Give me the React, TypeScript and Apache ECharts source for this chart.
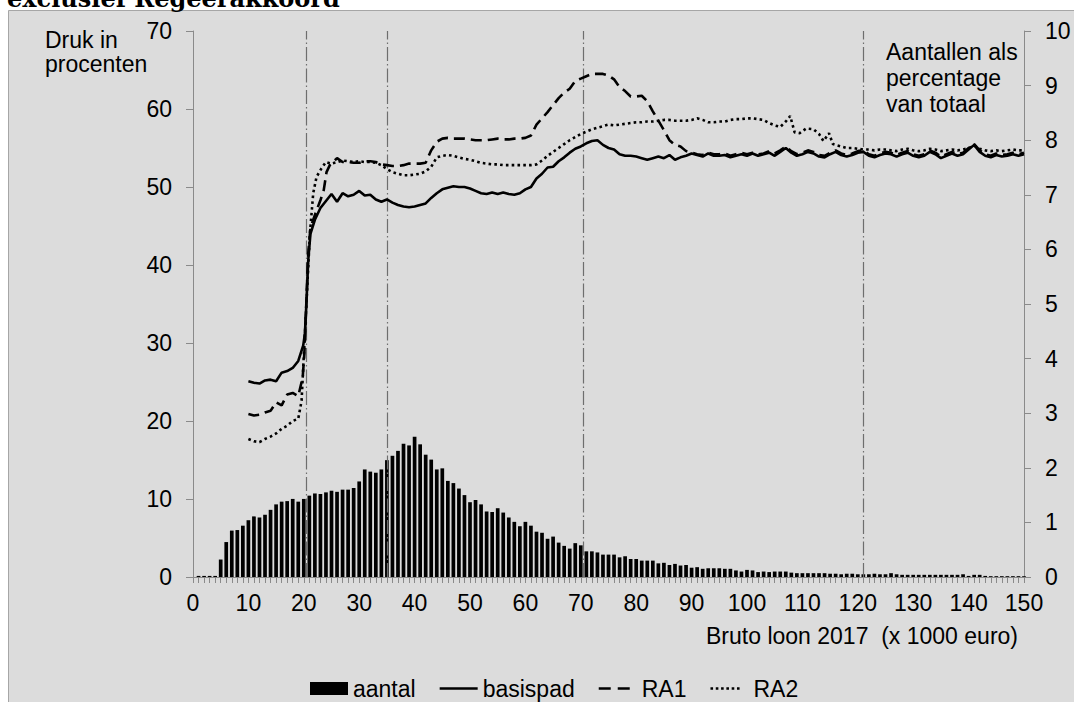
import React, { useEffect, useRef } from "react";
import * as echarts from "echarts";

// Aantallen als percentage van totaal, per 1000 euro bruto loon (x = 1..150)
const aantal: number[] = [
  0.02, 0.02, 0.02, 0.02, 0.32, 0.64, 0.85, 0.86, 0.94, 1.04,
  1.11, 1.09, 1.14, 1.23, 1.33, 1.38, 1.39, 1.43, 1.38, 1.43,
  1.49, 1.53, 1.52, 1.55, 1.58, 1.56, 1.6, 1.6, 1.63, 1.75,
  1.97, 1.93, 1.91, 1.97, 2.14, 2.22, 2.31, 2.44, 2.41, 2.57,
  2.43, 2.24, 2.15, 1.97, 1.99, 1.76, 1.72, 1.62, 1.5, 1.37,
  1.41, 1.33, 1.2, 1.19, 1.26, 1.18, 1.09, 1.01, 0.93, 1.01,
  0.94, 0.83, 0.81, 0.7, 0.74, 0.63, 0.57, 0.52, 0.62, 0.58,
  0.47, 0.47, 0.45, 0.41, 0.41, 0.41, 0.36, 0.38, 0.33, 0.33,
  0.3, 0.3, 0.3, 0.25, 0.26, 0.22, 0.24, 0.21, 0.22, 0.17,
  0.18, 0.15, 0.16, 0.16, 0.16, 0.15, 0.15, 0.12, 0.1, 0.13,
  0.12, 0.09, 0.1, 0.09, 0.1, 0.1, 0.1, 0.08, 0.07, 0.07,
  0.07, 0.07, 0.07, 0.07, 0.06, 0.06, 0.05, 0.06, 0.06, 0.05,
  0.05, 0.05, 0.06, 0.05, 0.05, 0.07, 0.05, 0.04, 0.04, 0.04,
  0.04, 0.04, 0.04, 0.04, 0.04, 0.04, 0.04, 0.04, 0.05, 0.02,
  0.04, 0.04, 0.02, 0.015, 0.015, 0.015, 0.015, 0.015, 0.015, 0.015,
];
const aantalStart = 1;

// Druk in procenten: [bruto loon x1000, druk]
const basispad: [number, number][] = [
  [10, 25.1], [11, 24.9], [12, 24.8], [13, 25.2], [14, 25.3], [15, 25.1], [16, 26.2], [17, 26.4], [18, 26.8], [19, 27.7],
  [19.9, 29.7], [20.2, 31.2], [20.5, 35.5], [20.8, 40.6], [21.2, 44.0], [22, 45.8], [23, 47.3], [24, 48.2], [25, 49.1], [26, 48.1],
  [27, 49.2], [28, 48.8], [29, 49.0], [30, 49.5], [31, 48.9], [32, 49.0], [33, 48.4], [34, 48.1], [35, 48.4], [36, 48.0],
  [37, 47.7], [38, 47.5], [39, 47.4], [40, 47.5], [41, 47.7], [42, 47.9], [43, 48.6], [44, 49.2], [45, 49.7], [46, 49.9],
  [47, 50.1], [48, 50.0], [49, 50.0], [50, 49.8], [51, 49.5], [52, 49.2], [53, 49.1], [54, 49.3], [55, 49.1], [56, 49.3],
  [57, 49.1], [58, 49.0], [59, 49.2], [60, 49.7], [61, 50.0], [62, 51.1], [63, 51.7], [64, 52.5], [65, 52.6], [66, 53.3],
  [67, 53.8], [68, 54.4], [69, 54.9], [70, 55.2], [71, 55.6], [72, 55.9], [73, 56.0], [74, 55.4], [75, 55.0], [76, 54.8],
  [77, 54.2], [78, 54.0], [79, 54.0], [80, 53.9], [81, 53.7], [82, 53.5], [83, 53.7], [84, 53.9], [85, 53.7], [86, 54.1],
  [87, 53.5], [88, 53.8], [89, 54.0], [90, 54.3], [91, 54.1], [92, 53.9], [93, 54.3], [94, 54.0], [95, 54.0], [96, 54.1],
  [97, 53.8], [98, 54.0], [99, 54.2], [100, 54.0], [101, 54.3], [102, 54.0], [103, 54.2], [104, 54.4], [105, 54.0], [106, 54.5],
  [107, 55.0], [108, 54.4], [109, 54.0], [110, 54.2], [111, 54.5], [112, 54.3], [113, 53.9], [114, 53.8], [115, 54.2], [116, 54.5],
  [117, 54.1], [118, 53.9], [119, 54.1], [120, 54.4], [121, 54.5], [122, 54.0], [123, 53.8], [124, 54.1], [125, 54.3], [126, 54.2],
  [127, 53.9], [128, 54.2], [129, 54.4], [130, 54.0], [131, 53.8], [132, 54.0], [133, 54.5], [134, 54.2], [135, 53.7], [136, 54.0],
  [137, 54.3], [138, 54.0], [139, 54.2], [140, 54.8], [141, 55.4], [142, 54.5], [143, 54.0], [144, 53.8], [145, 54.1], [146, 53.9],
  [147, 54.0], [148, 54.2], [149, 54.0], [150, 54.2],
];

const ra1: [number, number][] = [
  [10, 20.9], [11, 20.7], [12, 20.8], [13, 21.1], [14, 21.3], [15, 22.4], [16, 22.0], [17, 23.4], [18, 23.6], [19, 23.2],
  [19.8, 25.6], [20.1, 28.6], [20.5, 36.0], [20.8, 41.5], [21.2, 44.8], [22.2, 46.8], [23, 48.3], [23.6, 49.6], [24.1, 51.9], [24.7, 52.8],
  [26, 53.7], [27, 53.2], [28, 53.2], [29, 53.1], [30, 53.1], [31, 53.3], [32, 53.3], [33, 53.2], [34, 52.9], [35, 52.8],
  [36, 52.7], [37, 52.7], [38, 52.8], [39, 53.0], [40, 53.0], [41, 53.0], [42, 53.1], [43, 54.7], [44, 55.8], [45, 56.2],
  [46, 56.3], [47, 56.2], [48, 56.2], [49, 56.2], [50, 56.1], [51, 56.0], [52, 56.0], [53, 56.0], [54, 56.1], [55, 56.2],
  [56, 56.1], [57, 56.1], [58, 56.2], [59, 56.2], [60, 56.3], [61, 56.6], [62, 58.0], [63, 58.8], [64, 59.6], [65, 60.5],
  [66, 61.4], [67, 62.1], [68, 62.6], [69, 63.6], [70, 63.9], [71, 64.2], [72, 64.5], [73, 64.5], [74, 64.5], [75, 64.3],
  [76, 63.8], [77, 62.8], [78, 62.3], [79, 61.6], [80, 61.6], [81, 61.7], [82, 61.0], [83, 59.7], [84, 58.5], [85, 57.3],
  [86, 56.0], [87, 55.4], [88, 55.2], [89, 54.6], [90, 54.4], [91, 54.2], [92, 54.1], [93, 54.4], [94, 54.2], [95, 54.2],
  [96, 54.3], [97, 54.0], [98, 54.2], [99, 54.4], [100, 54.2], [101, 54.4], [102, 54.2], [103, 54.3], [104, 54.6], [105, 54.3],
  [106, 54.7], [107, 55.2], [108, 54.6], [109, 54.2], [110, 54.4], [111, 54.7], [112, 54.5], [113, 54.1], [114, 54.0], [115, 54.4],
  [116, 54.7], [117, 54.3], [118, 54.1], [119, 54.3], [120, 54.6], [121, 54.7], [122, 54.2], [123, 54.0], [124, 54.3], [125, 54.5],
  [126, 54.4], [127, 54.1], [128, 54.4], [129, 54.6], [130, 54.2], [131, 54.0], [132, 54.2], [133, 54.7], [134, 54.4], [135, 53.9],
  [136, 54.2], [137, 54.5], [138, 54.2], [139, 54.4], [140, 55.0], [141, 55.5], [142, 54.7], [143, 54.2], [144, 54.0], [145, 54.3],
  [146, 54.1], [147, 54.2], [148, 54.4], [149, 54.2], [150, 54.4],
];

const ra2: [number, number][] = [
  [10, 17.7], [11, 17.4], [12, 17.3], [13, 17.7], [14, 18.0], [15, 18.4], [16, 19.0], [17, 19.4], [18, 20.0], [19, 20.3],
  [19.6, 22.6], [19.9, 26.9], [20.5, 35.4], [21.1, 44.0], [21.7, 49.2], [22.3, 51.3], [23.2, 52.4], [24, 53.2], [25, 53.0], [26, 53.2],
  [27, 53.4], [28, 53.3], [29, 53.2], [30, 53.3], [31, 53.2], [32, 53.2], [33, 53.1], [34, 52.8], [35, 52.3], [36, 51.9],
  [37, 51.7], [38, 51.5], [39, 51.5], [40, 51.6], [41, 51.7], [42, 52.0], [43, 52.6], [44, 53.8], [45, 54.0], [46, 54.1],
  [47, 54.0], [48, 53.8], [49, 53.6], [50, 53.5], [51, 53.3], [52, 53.1], [53, 53.0], [54, 52.9], [55, 52.9], [56, 52.8],
  [57, 52.8], [58, 52.8], [59, 52.8], [60, 52.8], [61, 52.8], [62, 52.9], [63, 53.4], [64, 54.0], [65, 54.5], [66, 55.0],
  [67, 55.5], [68, 56.0], [69, 56.4], [70, 56.8], [71, 57.1], [72, 57.4], [73, 57.6], [74, 57.8], [75, 58.0], [76, 57.9],
  [77, 58.0], [78, 58.1], [79, 58.2], [80, 58.3], [81, 58.3], [82, 58.4], [83, 58.4], [84, 58.5], [85, 58.6], [86, 58.6],
  [87, 58.5], [88, 58.5], [89, 58.5], [90, 58.6], [91, 58.8], [92, 58.6], [93, 58.3], [94, 58.3], [95, 58.4], [96, 58.4],
  [97, 58.6], [98, 58.7], [99, 58.7], [100, 58.8], [101, 58.8], [102, 58.7], [103, 58.6], [104, 58.2], [105, 57.9], [106, 57.7],
  [107, 58.4], [107.8, 59.1], [108.6, 57.0], [109.5, 56.9], [110.7, 57.5], [112, 57.4], [113, 56.8], [113.8, 55.9], [114.8, 56.9], [115.5, 55.5],
  [117, 55.2], [118, 55.0], [119, 55.0], [120, 54.9], [121, 54.8], [122, 54.8], [123, 54.7], [124, 54.8], [125, 54.8], [126, 54.7],
  [127, 54.6], [128, 54.8], [129, 54.9], [130, 54.7], [131, 54.6], [132, 54.7], [133, 54.9], [134, 54.8], [135, 54.6], [136, 54.7],
  [137, 54.8], [138, 54.7], [139, 54.8], [140, 55.0], [141, 55.3], [142, 54.9], [143, 54.7], [144, 54.6], [145, 54.7], [146, 54.6],
  [147, 54.7], [148, 54.8], [149, 54.7], [150, 54.7],
];

// Verticale hulplijnen (bruto loon x1000)
const grenzen = [20.4, 35, 70.4, 121];

const leftTicks = { min: 0, max: 70, interval: 10 };
const rightTicks = { min: 0, max: 10, interval: 1 };
const xTicks = { min: 0, max: 150, interval: 10 };

const FONT = "Liberation Sans";
const FS = 23;
const TXT = "#000000";

// legend icon paths (with tiny corner markers so bbox is 38x13)
const box = "M0,0h0.01v0.01h-0.01z M37.99,12.99h0.01v0.01h-0.01z ";
const iconSolid = "path://" + box + "M0,5.2h38v2.6h-38z";
const iconDash = "path://" + box + "M0,5.2h12v2.6h-12z M19,5.2h12v2.6h-12z";
let dots = "";
for (let i = 0; i < 6; i++) dots += `M${(i * 5.3).toFixed(1)},5.2h2.6v2.6h-2.6z `;
const iconDot = "path://" + box + dots;

export default function App() {
  const ref = useRef<HTMLDivElement>(null);

  useEffect(() => {
    if (!ref.current) return;
    const chart = echarts.init(ref.current, undefined, { renderer: "svg" });

    const barData = aantal.map((v, i) => [aantalStart + i, v]);
    const axisGray = "#8a8a8a";

    const lineBase = {
      type: "line" as const,
      yAxisIndex: 0,
      symbol: "none",
      showSymbol: false,
      smooth: false,
      z: 5,
    };

    const txt = (text: string, x: number, y: number, extra: any = {}) => ({
      type: "text",
      x,
      y,
      style: { text, fontFamily: FONT, fontSize: FS, fill: TXT, verticalAlign: "middle", ...extra },
    });

    chart.setOption({
      animation: false,
      backgroundColor: "#ffffff",
      textStyle: { fontFamily: FONT, color: TXT },
      grid: { left: 193, right: 50, top: 31, bottom: 125, containLabel: false },
      graphic: [
        {
          type: "rect",
          z: -10,
          silent: true,
          shape: { x: 8.5, y: 10.5, width: 1100, height: 720 },
          style: { fill: "#dcdcdc", stroke: "#a6a6a6", lineWidth: 1 },
        },
        {
          type: "text",
          x: 7,
          y: -2,
          style: {
            text: "exclusief Regeerakkoord",
            fontFamily: "DejaVu Serif",
            fontWeight: "bold",
            fontSize: 24,
            fill: TXT,
            verticalAlign: "middle",
          },
        },
        txt("Druk in", 45, 40),
        txt("procenten", 45, 64),
        txt("Aantallen als", 886, 52),
        txt("percentage", 886, 78),
        txt("van totaal", 886, 104),
        txt("Bruto loon 2017  (x 1000 euro)", 1018, 636, { align: "right" }),
      ],
      legend: {
        left: 305,
        top: 672,
        itemWidth: 38,
        itemHeight: 13,
        itemGap: 24,
        textStyle: { fontFamily: FONT, fontSize: FS, color: TXT },
        data: [
          { name: "aantal", icon: "rect" },
          { name: "basispad", icon: iconSolid },
          { name: "RA1", icon: iconDash },
          { name: "RA2", icon: iconDot },
        ],
      },
      xAxis: {
        type: "value",
        min: xTicks.min,
        max: xTicks.max,
        interval: xTicks.interval,
        axisLine: { show: true, onZero: false, lineStyle: { color: axisGray, width: 1 } },
        axisTick: { show: true, length: 6, lineStyle: { color: axisGray } },
        minorTick: { show: true, splitNumber: 10, length: 6, lineStyle: { color: axisGray } },
        splitLine: { show: false },
        minorSplitLine: { show: false },
        axisLabel: { fontFamily: FONT, fontSize: FS, color: TXT, margin: 14 },
      },
      yAxis: [
        {
          type: "value",
          position: "left",
          min: leftTicks.min,
          max: leftTicks.max,
          interval: leftTicks.interval,
          axisLine: { show: true, lineStyle: { color: axisGray, width: 1 } },
          axisTick: { show: true, length: 7, lineStyle: { color: axisGray } },
          splitLine: { show: false },
          axisLabel: { fontFamily: FONT, fontSize: FS, color: TXT, margin: 21 },
        },
        {
          type: "value",
          position: "right",
          min: rightTicks.min,
          max: rightTicks.max,
          interval: rightTicks.interval,
          axisLine: { show: true, lineStyle: { color: axisGray, width: 1 } },
          axisTick: { show: true, length: 7, lineStyle: { color: axisGray } },
          splitLine: { show: false },
          axisLabel: { fontFamily: FONT, fontSize: FS, color: TXT, margin: 21 },
        },
      ],
      series: [
        {
          name: "aantal",
          type: "bar",
          yAxisIndex: 1,
          data: barData,
          barWidth: 3.7,
          itemStyle: { color: "#000000" },
          z: 2,
          markLine: {
            silent: true,
            symbol: "none",
            label: { show: false },
            lineStyle: { color: "#6e6e6e", width: 1.2, type: [14, 3, 1.5, 3] },
            data: grenzen.map((g) => ({ xAxis: g })),
            z: 3,
          },
        },
        {
          ...lineBase,
          name: "basispad",
          data: basispad,
          itemStyle: { color: "#000000" },
          lineStyle: { color: "#000000", width: 2.6, type: "solid" },
        },
        {
          ...lineBase,
          name: "RA1",
          data: ra1,
          itemStyle: { color: "#000000" },
          lineStyle: { color: "#000000", width: 2.6, type: [11, 6] },
        },
        {
          ...lineBase,
          name: "RA2",
          data: ra2,
          itemStyle: { color: "#000000" },
          lineStyle: { color: "#000000", width: 2.6, type: [2.6, 3.2] },
        },
      ],
    });

    return () => chart.dispose();
  }, []);

  return (
    <div
      ref={ref}
      style={{ position: "fixed", left: 0, top: 0, width: 1074, height: 702 }}
    />
  );
}
